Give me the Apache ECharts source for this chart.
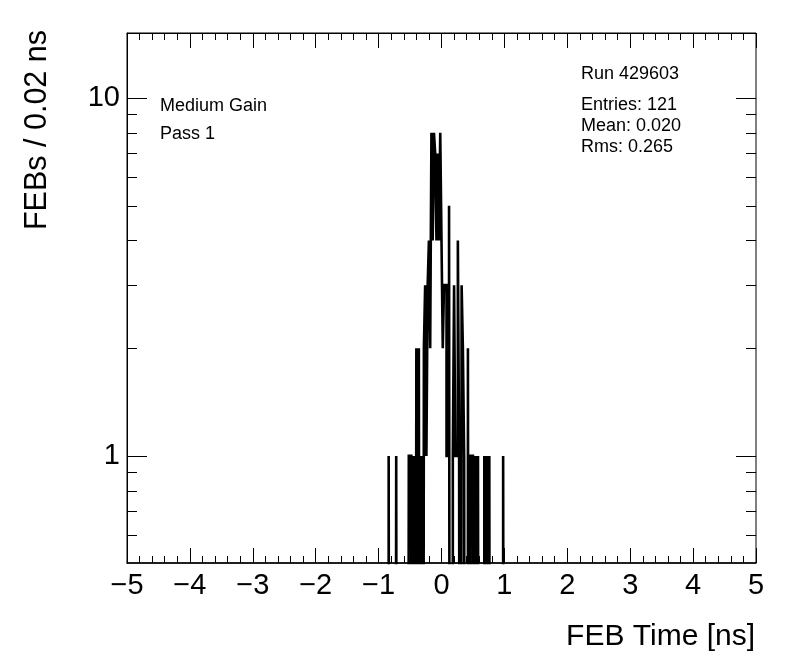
<!DOCTYPE html>
<html>
<head>
<meta charset="utf-8">
<script src="https://cdn.jsdelivr.net/npm/echarts@6/dist/echarts.min.js"></script>
<style>
html,body{margin:0;padding:0;background:#fff;}
#chart{width:796px;height:672px;}
</style>
</head>
<body>
<div id="chart"></div>
<script>
// Histogram: FEB time, bin width 0.02 ns, range -5..5 ns
const xMin = -5, xMax = 5, binWidth = 0.02;
// Non-empty bins: low edge (ns) and count
const binLowEdges = [-0.84, -0.72, -0.52, -0.50, -0.44, -0.40, -0.36, -0.32, -0.28, -0.26, -0.24, -0.22, -0.20, -0.18,
  -0.16, -0.14, -0.12, -0.10, -0.08, -0.06, -0.04, -0.02,
  0.00, 0.02, 0.04, 0.06, 0.08, 0.10, 0.12, 0.18, 0.20, 0.22, 0.24, 0.26, 0.28, 0.32, 0.34,
  0.36, 0.42, 0.46, 0.48, 0.54, 0.58, 0.68, 0.72, 0.76, 0.98];
const binCounts = [1, 1, 1, 1, 1, 2, 2, 1, 2, 3, 1, 3, 4, 2,
  8, 4, 8, 7, 4, 7, 4, 8,
  4, 2, 3, 3, 1, 1, 5, 1, 3, 1, 1, 4, 1, 3, 2,
  1, 2, 1, 1, 1, 1, 1, 1, 1, 1];
const xTicks = [-5, -4, -3, -2, -1, 0, 1, 2, 3, 4, 5];
const yMin = 0.502, yMax = 15.2;
const yMajorTicks = [1, 10];
const yMinorTicks = [0.6, 0.7, 0.8, 0.9, 2, 3, 4, 5, 6, 7, 8, 9];
const yLabels = ['1', '10'];
const textLeft = ['Medium Gain', 'Pass 1'];
const textRight = ['Run 429603', 'Entries: 121', 'Mean: 0.020', 'Rms: 0.265'];
const xTitle = 'FEB Time [ns]';
const yTitle = 'FEBs / 0.02 ns';

// Build full step outline from the bins (empty bins drop below the frame and are clipped)
const nBins = Math.round((xMax - xMin) / binWidth);
const full = new Array(nBins).fill(0);
binLowEdges.forEach((e, i) => {
  const k = Math.round((e - xMin) / binWidth);
  full[k] += binCounts[i];
});
const EMPTY = 0.001;
const stepData = [];
for (let k = 0; k < nBins; k++) {
  const edge = +(xMin + k * binWidth).toFixed(4);
  stepData.push([edge, full[k] > 0 ? full[k] : EMPTY]);
}
stepData.push([xMax, EMPTY]);

const tickData = yMajorTicks.map(v => [xMin, v, 1]).concat(yMinorTicks.map(v => [xMin, v, 0]));

const FONT = 'Liberation Sans, Arial, Helvetica, sans-serif';
const chart = echarts.init(document.getElementById('chart'), null, {renderer: 'canvas'});

const graphics = [];
const leftY = [107, 135];
textLeft.forEach((t, i) => graphics.push({type: 'text', left: 160, top: leftY[i] - 10,
  style: {text: t, fontSize: 18, fontFamily: FONT, fill: '#000'}}));
const rightY = [75, 106, 127, 148];
textRight.forEach((t, i) => graphics.push({type: 'text', left: 581, top: rightY[i] - 10,
  style: {text: t, fontSize: 18, fontFamily: FONT, fill: '#000'}}));
graphics.push({type: 'text', x: 755, y: 637, style: {text: xTitle, fontSize: 30, fontFamily: FONT, fill: '#000', align: 'right', verticalAlign: 'middle'}});
graphics.push({type: 'text', x: 38, y: 30, rotation: Math.PI / 2, style: {text: yTitle, fontSize: 30.5, fontFamily: FONT, fill: '#000', align: 'right', verticalAlign: 'middle'}});

const option = {
  animation: false,
  backgroundColor: '#fff',
  grid: {left: 127, right: 40, top: 33, bottom: 109, show: true, borderColor: '#000', borderWidth: 1, containLabel: false},
  xAxis: [{
    type: 'value', min: xMin, max: xMax, interval: 1, position: 'bottom',
    axisLine: {show: true, onZero: false, lineStyle: {color: '#000', width: 1.5}},
    axisTick: {show: true, inside: true, length: 15, lineStyle: {color: '#000', width: 1}},
    minorTick: {show: true, splitNumber: 5, length: 7, lineStyle: {color: '#000', width: 1}},
    splitLine: {show: false},
    axisLabel: {show: true, margin: 8, fontSize: 29, fontFamily: FONT, color: '#000',
      formatter: v => (v < 0 ? '\u2212' + Math.abs(v) : String(v))}
  }, {
    type: 'value', min: xMin, max: xMax, interval: 1, position: 'top',
    axisLine: {show: true, onZero: false, lineStyle: {color: '#000', width: 1}},
    axisTick: {show: true, inside: true, length: 15, lineStyle: {color: '#000', width: 1}},
    minorTick: {show: true, splitNumber: 5, length: 7, lineStyle: {color: '#000', width: 1}},
    splitLine: {show: false},
    axisLabel: {show: false}
  }],
  yAxis: {
    type: 'log', logBase: 10, min: yMin, max: yMax,
    axisLine: {show: true, onZero: false, lineStyle: {color: '#000', width: 1}},
    axisTick: {show: false},
    minorTick: {show: false},
    splitLine: {show: false},
    axisLabel: {show: true, margin: 7, fontSize: 29, fontFamily: FONT, color: '#000', showMinLabel: true, showMaxLabel: true,
      formatter: v => {
        for (let i = 0; i < yMajorTicks.length; i++) {
          if (Math.abs(v - yMajorTicks[i]) < 1e-6 * yMajorTicks[i]) return yLabels[i];
        }
        return '';
      }}
  },
  series: [{
    type: 'line', xAxisIndex: 0, yAxisIndex: 0, data: stepData, step: 'end', symbol: 'none', clip: true,
    lineStyle: {color: '#000', width: 2.6, join: 'miter', cap: 'butt'}, silent: true
  }, {
    type: 'custom', xAxisIndex: 0, yAxisIndex: 0, data: tickData, clip: false, silent: true,
    encode: {x: 0, y: 1},
    renderItem: (params, api) => {
      const v = api.value(1);
      const major = api.value(2) === 1;
      const len = major ? 20 : 10;
      const pl = api.coord([xMin, v]);
      const pr = api.coord([xMax, v]);
      const y = Math.round(pl[1]) + 0.5;
      return {type: 'group', children: [
        {type: 'line', shape: {x1: pl[0], y1: y, x2: pl[0] + len, y2: y}, style: {stroke: '#000', lineWidth: 1}},
        {type: 'line', shape: {x1: pr[0], y1: y, x2: pr[0] - len, y2: y}, style: {stroke: '#000', lineWidth: 1}}
      ]};
    }
  }],
  graphic: graphics
};
chart.setOption(option);
</script>
</body>
</html>
